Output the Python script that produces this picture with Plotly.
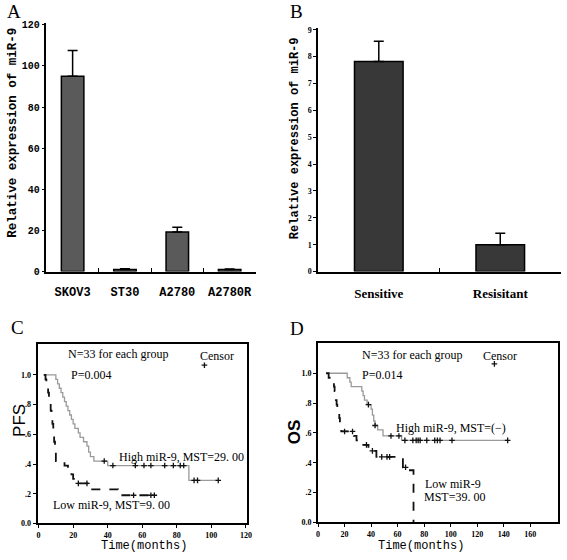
import plotly.graph_objects as go

W, H = 567, 560

# ---------------- data ----------------
a_categories = ["SKOV3", "ST30", "A2780", "A2780R"]
a_values = [95.0, 1.0, 19.3, 1.0]
a_errors = [12.5, 0.4, 2.2, 0.3]

b_categories = ["Sensitive", "Resisitant"]
b_values = [7.82, 1.0]
b_errors = [0.75, 0.43]

# Panel C (PFS) Kaplan-Meier steps
c_high_t = [3, 10, 11, 12, 13, 14, 15, 16, 17, 18, 19, 20, 21, 23, 24, 26, 28, 29, 30, 32, 40, 87, 104]
c_high_s = [1.00, .97, .94, .91, .88, .85, .82, .79, .76, .73, .70, .67, .64, .61, .58, .55, .52, .48, .45, .42, .39, .29, .29]
c_high_cens_t = [38, 43, 56, 61, 65, 73, 78, 82, 84, 90, 92, 104]
c_high_cens_s = [.42, .39, .39, .39, .39, .39, .39, .39, .39, .29, .29, .29]
c_low_t = [3, 4, 4.5, 5, 5.5, 6, 6.5, 7, 7.5, 8, 8.5, 9, 9.5, 10, 15, 17, 19, 20, 22, 31, 46, 68]
c_low_s = [1.00, .97, .94, .91, .88, .85, .82, .76, .70, .67, .61, .55, .48, .42, .39, .36, .33, .30, .27, .23, .19, .19]
c_low_cens_t = [23, 28, 55, 65, 67]
c_low_cens_s = [.27, .27, .19, .19, .19]

# Panel D (OS) Kaplan-Meier steps
d_high_t = [7, 22, 24, 25, 33, 34, 35, 37, 40, 41, 42, 43, 45, 49, 63, 143]
d_high_s = [1.00, .97, .94, .91, .88, .85, .82, .79, .76, .72, .68, .65, .62, .58, .55, .55]
d_high_cens_t = [38, 43, 55, 61, 65.5, 71.5, 74, 75.5, 77, 82, 88, 90, 92, 101, 143]
d_high_cens_s = [.79, .65, .58, .58, .55, .55, .55, .55, .55, .55, .55, .55, .55, .55, .55]
d_low_t = [6, 8, 10, 12, 12.5, 13, 13.5, 14, 14.5, 15, 16, 16.5, 17, 17.5, 27, 29, 31, 38, 44, 64, 68, 72]
d_low_s = [1.00, .97, .94, .91, .88, .85, .82, .79, .76, .73, .70, .67, .64, .61, .58, .55, .52, .48, .44, .37, .35, 0.0]
d_low_cens_t = [20, 26, 36.5, 41, 48, 52, 54, 66]
d_low_cens_s = [.61, .61, .52, .48, .44, .44, .44, .37]

censor_key_c = (96, 1.065)
censor_key_d = (133, 1.063)

c_yticks = [0, .2, .4, .6, .8, 1.0]
c_yticklabels = ["0.0", ".2", ".4", ".6", ".8", "1.0"]
c_xticks = [0, 20, 40, 60, 80, 100, 120]
d_xticks = [0, 20, 40, 60, 80, 100, 120, 140, 160]


def px_x(x):
    return x / W


def px_y(y):
    return 1 - y / H


fig = go.Figure()

MONO = "Liberation Mono"
SERIF = "Liberation Serif"
CENS = dict(symbol="cross-thin", size=4, line=dict(color="#111", width=1.3))

# ---------------- Panel A ----------------
fig.add_trace(go.Bar(
    x=a_categories, y=a_values, width=0.43,
    marker=dict(color="#5a5a5a", line=dict(color="black", width=1.5)),
    error_y=dict(type="data", array=a_errors, arrayminus=[0] * len(a_errors), symmetric=False,
                 color="black", thickness=1.5, width=5),
    xaxis="x", yaxis="y", showlegend=False))

# ---------------- Panel B ----------------
fig.add_trace(go.Bar(
    x=b_categories, y=b_values, width=0.4,
    marker=dict(color="#383838", line=dict(color="black", width=1.5)),
    error_y=dict(type="data", array=b_errors, arrayminus=[0] * len(b_errors), symmetric=False,
                 color="black", thickness=1.5, width=5),
    xaxis="x2", yaxis="y2", showlegend=False))

# ---------------- Panel C ----------------
fig.add_trace(go.Scatter(x=c_high_t, y=c_high_s, mode="lines", line=dict(color="#9a9a9a", width=1.3, shape="hv"),
                         xaxis="x3", yaxis="y3", showlegend=False))
fig.add_trace(go.Scatter(x=c_low_t, y=c_low_s, mode="lines", line=dict(color="#111", width=1.8, shape="hv", dash="dash"),
                         xaxis="x3", yaxis="y3", showlegend=False))
fig.add_trace(go.Scatter(x=c_high_cens_t + c_low_cens_t, y=c_high_cens_s + c_low_cens_s, mode="markers",
                         marker=CENS, xaxis="x3", yaxis="y3", showlegend=False))
fig.add_trace(go.Scatter(x=[censor_key_c[0]], y=[censor_key_c[1]], mode="markers",
                         marker=CENS, xaxis="x3", yaxis="y3", showlegend=False))

# ---------------- Panel D ----------------
fig.add_trace(go.Scatter(x=d_high_t, y=d_high_s, mode="lines", line=dict(color="#9a9a9a", width=1.3, shape="hv"),
                         xaxis="x4", yaxis="y4", showlegend=False))
fig.add_trace(go.Scatter(x=d_low_t, y=d_low_s, mode="lines", line=dict(color="#111", width=1.8, shape="hv", dash="dash"),
                         xaxis="x4", yaxis="y4", showlegend=False))
fig.add_trace(go.Scatter(x=d_high_cens_t + d_low_cens_t, y=d_high_cens_s + d_low_cens_s, mode="markers",
                         marker=CENS, xaxis="x4", yaxis="y4", showlegend=False))
fig.add_trace(go.Scatter(x=[censor_key_d[0]], y=[censor_key_d[1]], mode="markers",
                         marker=CENS, xaxis="x4", yaxis="y4", showlegend=False))

bar_axis_common = dict(showline=True, linecolor="black", linewidth=1.5, showgrid=False, zeroline=False)
km_common = dict(showline=True, linecolor="black", linewidth=2, showgrid=False, zeroline=False, mirror=True,
                 ticks="outside", ticklen=3, tickcolor="black",
                 tickfont=dict(family=SERIF, size=8, color="black", weight="bold"))

fig.update_layout(
    width=W, height=H, margin=dict(l=0, r=0, t=0, b=0),
    paper_bgcolor="white", plot_bgcolor="white",
    xaxis=dict(domain=[px_x(45), px_x(257)], anchor="y", type="category", range=[-0.5, 3.5],
               tickson="boundaries", ticks="inside", ticklen=4, tickcolor="black", tickwidth=1.2, tickangle=0,
               tickfont=dict(family=MONO, size=12, color="black", weight="bold"), ticklabelstandoff=8,
               **bar_axis_common),
    yaxis=dict(domain=[px_y(274), px_y(21)], anchor="x", range=[0, 121], tickvals=[0, 20, 40, 60, 80, 100, 120],
               ticks="outside", ticklen=3, tickcolor="black", tickwidth=1.2,
               tickfont=dict(family=MONO, size=10, color="black", weight="bold"),
               **bar_axis_common),
    xaxis2=dict(domain=[px_x(320), px_x(566)], anchor="y2", type="category", range=[-0.5, 1.5],
                tickson="boundaries", ticks="inside", ticklen=4, tickcolor="black", tickwidth=1.2, tickangle=0,
                tickfont=dict(family=SERIF, size=13, color="black", weight="bold"), ticklabelstandoff=9,
                **bar_axis_common),
    yaxis2=dict(domain=[px_y(274), px_y(26)], anchor="x2", range=[0, 9.08], tickvals=list(range(10)),
                ticks="outside", ticklen=3, tickcolor="black", tickwidth=1.2,
                tickfont=dict(family=SERIF, size=8, color="black", weight="bold"),
                **bar_axis_common),
    xaxis3=dict(domain=[px_x(36), px_x(248)], anchor="y3", range=[-0.6, 120.6], tickvals=c_xticks, **km_common),
    yaxis3=dict(domain=[px_y(530), px_y(348)], anchor="x3", range=[0, 1.205], tickvals=c_yticks,
                ticktext=c_yticklabels, **km_common),
    xaxis4=dict(domain=[px_x(320), px_x(563)], anchor="y4", range=[0, 181], tickvals=d_xticks, **km_common),
    yaxis4=dict(domain=[px_y(529), px_y(347)], anchor="x4", range=[0, 1.2], tickvals=c_yticks,
                ticktext=c_yticklabels, **km_common),
)

ann = []


def paper_text(text, x, y, font, angle=0, xa="center", ya="middle"):
    ann.append(dict(text=text, x=px_x(x), y=px_y(y), xref="paper", yref="paper", xanchor=xa, yanchor=ya,
                    textangle=angle, showarrow=False, font=font))


# panel letters
for lab, x, y in [("A", 3, 10), ("B", 290, 10), ("C", 7, 331), ("D", 290, 332)]:
    paper_text(lab, x, y, dict(family=SERIF, size=19, color="black"), xa="left")
# y titles for bar panels
paper_text("Relative expression of miR-9", 11, 133, dict(family=MONO, size=12.5, color="black", weight="bold"), -90)
paper_text("Relative expression of miR-9", 296, 138, dict(family=MONO, size=12, color="black", weight="bold"), -90)
# KM y titles
paper_text("PFS", 17, 425, dict(family="Liberation Sans", size=17, color="black"), -90)
paper_text("OS", 297, 437, dict(family="Liberation Sans", size=17, color="black", weight="bold"), -90)
# KM x titles
paper_text("Time(months)", 144, 553, dict(family=MONO, size=12, color="black"))
paper_text("Time(months)", 424, 553, dict(family=MONO, size=12, color="black"))

serif12 = dict(family=SERIF, size=12, color="black")
# panel C texts
for txt, x, y in [("N=33 for each group", 16, 1.14), ("Censor", 92, 1.13), ("P=0.004", 17.5, 1.0),
                  ("High miR-9, MST=29. 00", 45.5, 0.45), ("Low miR-9, MST=9. 00", 7.3, 0.125)]:
    ann.append(dict(text=txt, x=x, y=y, xref="x3", yref="y3", xanchor="left", yanchor="middle",
                    showarrow=False, font=serif12))
# panel D texts
for txt, x, y in [("N=33 for each group", 31.5, 1.12), ("Censor", 123, 1.115), ("P=0.014", 31.5, 0.99),
                  ("High miR-9, MST=(−)", 57, 0.635), ("Low miR-9", 79, 0.258), ("MST=39. 00", 78.5, 0.172)]:
    ann.append(dict(text=txt, x=x, y=y, xref="x4", yref="y4", xanchor="left", yanchor="middle",
                    showarrow=False, font=serif12))

fig.update_layout(annotations=ann)
# remove the browser's default 8px body margin so the 567x560 figure fills the window
fig.write_html("out.html", config={"displayModeBar": False},
               post_script="document.body.style.margin='0px';")
